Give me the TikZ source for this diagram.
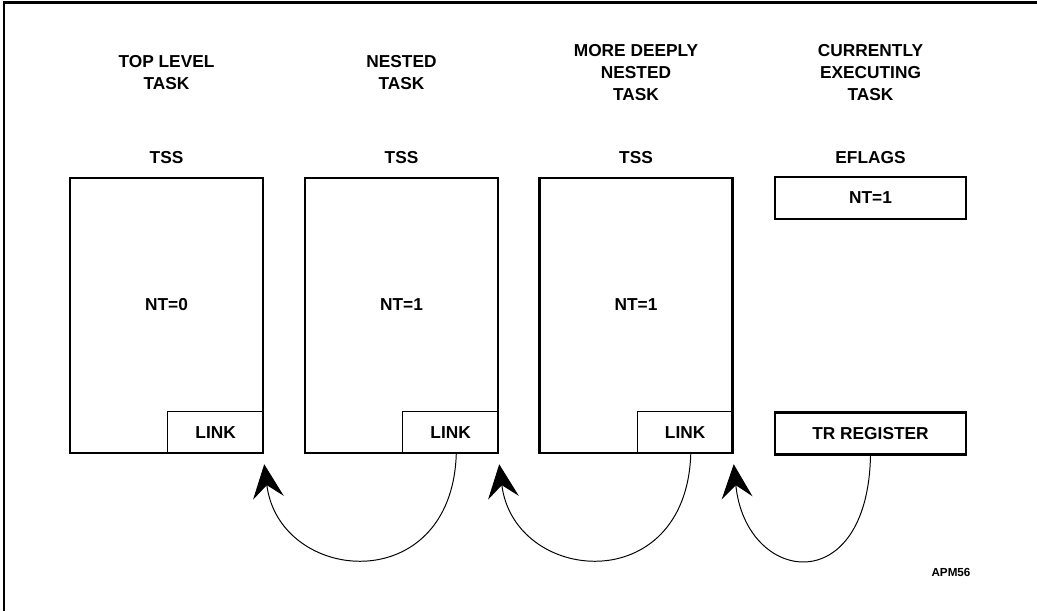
\documentclass[tikz,border=0pt]{standalone}
\usepackage{fontspec}
\setmainfont{Liberation Sans}
\usetikzlibrary{arrows.meta,calc}

\begin{document}
\begin{tikzpicture}[
  x=0.025cm, y=-0.025cm,
  % TSS box -- tall, thick border
  tss/.style = {draw, line width=1.7pt, inner sep=0pt,
                minimum width=4.825cm, minimum height=6.875cm},
  % Register box (EFLAGS, TR)
  reg/.style = {draw, line width=1.7pt, inner sep=0pt,
                minimum width=4.775cm, minimum height=1.05cm,
                font=\fontsize{12.3}{15.5}\selectfont\bfseries},
  % LINK field in the corner of a TSS
  lk/.style  = {draw, line width=0.8pt, inner sep=0pt, anchor=south east,
                minimum width=2.4cm, minimum height=1.05cm,
                font=\fontsize{12.3}{15.5}\selectfont\bfseries},
  % Column headings and labels
  hd/.style  = {align=center, inner sep=0pt,
                font=\fontsize{12.3}{15.5}\selectfont\bfseries},
  % Back link arrows
  arr/.style = {-{Stealth[length=24pt,width=22pt,inset=9pt]},
                line width=0.7pt},
  frame/.style = {line width=2.1pt}
]
\useasboundingbox (0,0) rectangle (1037,611);

% Frame (top and left edge only)
\draw[frame] (4,611) -- (4,2.5) -- (1037,2.5);

% Column headings
\node[hd] (H1) at (166.5,72.5) {TOP LEVEL\\TASK};
\node[hd] (H2) at (401.5,72.5) {NESTED\\TASK};
\node[hd] (H3) at (636,  72.5) {MORE DEEPLY\\NESTED\\TASK};
\node[hd] (H4) at (870.5,72.5) {CURRENTLY\\EXECUTING\\TASK};

\node[hd] (S1) at (166.5,157.5) {TSS};
\node[hd] (S2) at (401.5,157.5) {TSS};
\node[hd] (S3) at (636,  157.5) {TSS};
\node[hd] (S4) at (870.5,157.5) {EFLAGS};

% TSS boxes with LINK fields
\node[tss] (T1) at (166.5,315.5) {};
\node[tss] (T2) at (401.5,315.5) {};
\node[tss] (T3) at (636,  315.5) {};
\node[lk]  (L1) at (T1.south east) {LINK};
\node[lk]  (L2) at (T2.south east) {LINK};
\node[lk]  (L3) at (T3.south east) {LINK};

\node[hd] (N1) at (166.5,305) {NT=0};
\node[hd] (N2) at (401.5,305) {NT=1};
\node[hd] (N3) at (636,  305) {NT=1};

% Registers of the running task
\node[reg] (EF) at (870.5,198)   {NT=1};
\node[reg] (TR) at (870.5,433.5) {TR REGISTER};

% Arrow heads stop just below the previous TSS
\coordinate (A1) at ([yshift=-0.25cm]T1.south east);
\coordinate (A2) at ([yshift=-0.25cm]T2.south east);
\coordinate (A3) at ([yshift=-0.25cm]T3.south east);

\draw[arr] ([xshift=4pt]L2.south) .. controls +(-5,145) and +(15,120) .. (A1);
\draw[arr] ([xshift=4pt]L3.south) .. controls +(-5,145) and +(15,120) .. (A2);
\draw[arr] (TR.south) .. controls +(-3,145) and +(12,120) .. (A3);

\node[inner sep=0pt, font=\fontsize{8.3}{10}\selectfont\bfseries] (ID) at (951,572) {APM56};

\end{tikzpicture}
\end{document}
